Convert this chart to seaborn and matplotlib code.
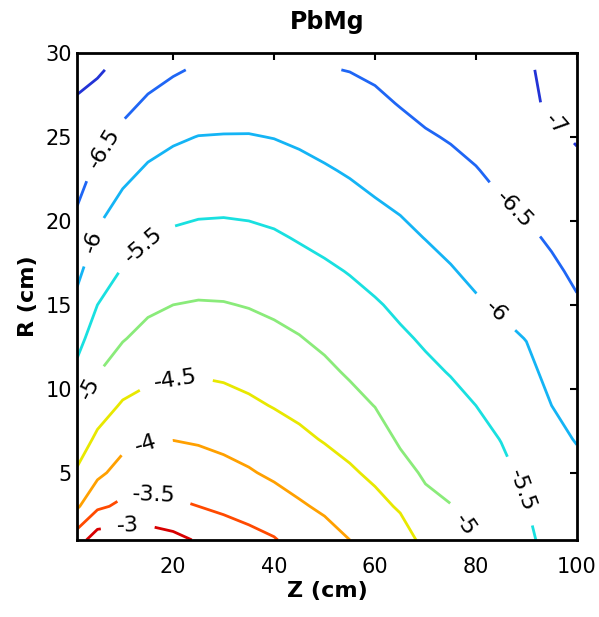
import numpy as np
import matplotlib
matplotlib.use("Agg")
import matplotlib.pyplot as plt
import seaborn as sns

# ---- data ----
title = "PbMg"
x_label = "Z (cm)"
y_label = "R (cm)"
z_cm = [1, 5, 10, 15, 20, 25, 30, 35, 40, 45, 50, 55, 60, 65, 70, 75, 80, 85, 90, 95, 100]
r_cm = [1, 3, 5, 7, 9, 11, 13, 15, 17, 19, 21, 23, 25, 27, 29]
levels = [-7, -6.5, -6, -5.5, -5, -4.5, -4, -3.5, -3]
x_ticks = [20, 40, 60, 80, 100]
y_ticks = [5, 10, 15, 20, 25, 30]

row_r01 = [-3.23, -2.73, -2.71, -2.73, -2.86, -3.05, -3.29, -3.37, -3.47, -3.68, -3.83, -4.00, -4.20, -4.30, -4.62, -4.85, -5.00, -5.22, -5.44, -5.60, -5.68]
row_r03 = [-4.06, -3.59, -3.40, -3.37, -3.42, -3.50, -3.57, -3.66, -3.79, -3.95, -4.07, -4.22, -4.37, -4.55, -4.88, -4.99, -5.13, -5.32, -5.49, -5.70, -5.79]
row_r05 = [-4.44, -4.11, -3.81, -3.74, -3.74, -3.78, -3.86, -3.96, -4.08, -4.18, -4.30, -4.44, -4.59, -4.85, -5.06, -5.12, -5.25, -5.41, -5.58, -5.80, -5.90]
row_r07 = [-4.76, -4.41, -4.15, -4.04, -4.01, -4.05, -4.12, -4.20, -4.30, -4.41, -4.53, -4.65, -4.80, -5.06, -5.18, -5.25, -5.38, -5.51, -5.69, -5.90, -6.02]
row_r09 = [-5.06, -4.72, -4.45, -4.34, -4.29, -4.30, -4.35, -4.43, -4.52, -4.61, -4.72, -4.86, -5.01, -5.19, -5.30, -5.38, -5.50, -5.65, -5.79, -6.00, -6.13]
row_r11 = [-5.39, -5.02, -4.75, -4.61, -4.56, -4.54, -4.57, -4.63, -4.71, -4.80, -4.91, -5.05, -5.16, -5.31, -5.42, -5.52, -5.65, -5.78, -5.90, -6.11, -6.24]
row_r13 = [-5.65, -5.26, -5.03, -4.85, -4.78, -4.76, -4.78, -4.83, -4.90, -4.98, -5.09, -5.20, -5.31, -5.44, -5.55, -5.67, -5.80, -5.91, -6.01, -6.22, -6.35]
row_r15 = [-5.88, -5.50, -5.25, -5.09, -5.00, -4.97, -4.98, -5.02, -5.08, -5.16, -5.26, -5.36, -5.46, -5.58, -5.70, -5.82, -5.95, -6.05, -6.15, -6.33, -6.46]
row_r17 = [-6.10, -5.71, -5.47, -5.30, -5.21, -5.18, -5.18, -5.21, -5.27, -5.35, -5.43, -5.52, -5.63, -5.74, -5.85, -5.97, -6.09, -6.19, -6.29, -6.43, -6.57]
row_r19 = [-6.31, -5.93, -5.68, -5.52, -5.43, -5.39, -5.38, -5.40, -5.45, -5.53, -5.61, -5.69, -5.80, -5.90, -6.01, -6.11, -6.22, -6.33, -6.43, -6.55, -6.69]
row_r21 = [-6.51, -6.17, -5.89, -5.73, -5.64, -5.59, -5.58, -5.60, -5.64, -5.71, -5.78, -5.87, -5.97, -6.05, -6.16, -6.25, -6.35, -6.47, -6.57, -6.68, -6.80]
row_r23 = [-6.66, -6.42, -6.13, -5.94, -5.84, -5.80, -5.78, -5.79, -5.82, -5.88, -5.96, -6.04, -6.12, -6.21, -6.31, -6.39, -6.48, -6.60, -6.71, -6.81, -6.92]
row_r25 = [-6.81, -6.64, -6.38, -6.18, -6.06, -5.99, -5.98, -5.98, -6.01, -6.07, -6.14, -6.20, -6.27, -6.36, -6.46, -6.53, -6.62, -6.74, -6.84, -6.94, -7.03]
row_r27 = [-6.96, -6.85, -6.63, -6.43, -6.30, -6.25, -6.20, -6.18, -6.20, -6.27, -6.32, -6.35, -6.42, -6.52, -6.61, -6.67, -6.76, -6.87, -6.92, -7.06, -7.15]
row_r29 = [-7.11, -7.05, -6.88, -6.68, -6.55, -6.45, -6.40, -6.38, -6.40, -6.47, -6.48, -6.51, -6.57, -6.65, -6.76, -6.82, -6.90, -6.97, -6.95, -7.10, -7.20]

field = np.array([row_r01, row_r03, row_r05, row_r07, row_r09, row_r11, row_r13,
                  row_r15, row_r17, row_r19, row_r21, row_r23, row_r25, row_r27, row_r29])

# approximate places of the inline contour labels (layout)
label_places = [(11, 1.5), (16, 3.3), (14.9, 6.5), (20.5, 10.4), (4.2, 9.9), (78, 1.9),
                (15, 18.3), (88.7, 3.9), (5.8, 18.6), (84, 14.6), (7.9, 24.0), (88.1, 20.8),
                (95.5, 25.7)]

# ---- style ----
sns.set_theme(style="white")
plt.rcParams['font.family'] = ['DejaVu Sans']
plt.rcParams['text.color'] = 'black'
plt.rcParams['axes.labelcolor'] = 'black'
plt.rcParams['axes.titlecolor'] = 'black'
line_colors = sns.color_palette(["#2233d6", "#1f66f5", "#14b4f5", "#19e0e0", "#8aeb7a",
                                 "#e8e800", "#ffa000", "#ff4a00", "#d80000"])

fig = plt.figure(figsize=(5.99, 6.17), dpi=100)
ax = fig.add_axes([0.129, 0.125, 0.834, 0.789])

cs = ax.contour(z_cm, r_cm, field, levels=levels, colors=line_colors, linewidths=2.0)
ax.clabel(cs, levels=levels, fmt=lambda v: f"{v:g}", manual=label_places, inline=True,
          inline_spacing=16, fontsize=16, colors="black")

ax.set_xlim(1, 100)
ax.set_ylim(1, 30)
ax.set_xticks(x_ticks)
ax.set_yticks(y_ticks)
ax.tick_params(direction="in", top=True, right=True, length=5, width=1.5,
               labelsize=15, colors="black")
ax.tick_params(axis="x", pad=12)
ax.tick_params(axis="y", pad=4)
for sp in ax.spines.values():
    sp.set_visible(True)
    sp.set_color("black")
    sp.set_linewidth(2)

ax.set_title(title, fontsize=17, fontweight="bold", pad=17, color="black")
ax.set_xlabel(x_label, fontsize=16, fontweight="bold", labelpad=3, color="black")
ax.set_ylabel(y_label, fontsize=16, fontweight="bold", labelpad=5, color="black")

fig.savefig("out.png", dpi=100, facecolor="white")
